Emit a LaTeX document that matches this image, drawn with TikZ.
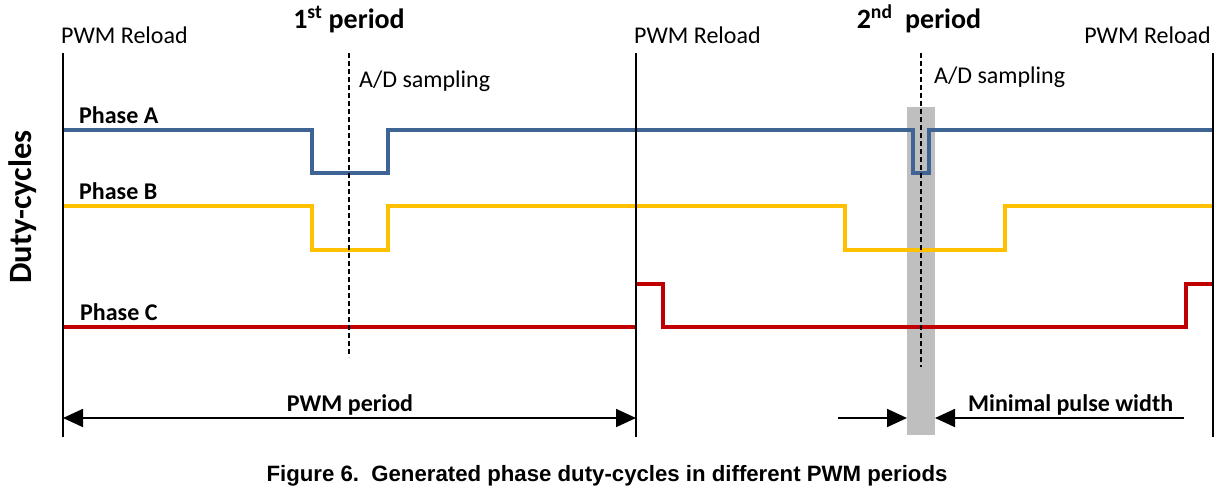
\documentclass[tikz,border=0pt]{standalone}
\usepackage{fontspec}
\setmainfont{Carlito}
\newfontfamily\capfont{Liberation Sans}
\usetikzlibrary{arrows.meta}
\definecolor{phA}{RGB}{62,100,148}
\definecolor{phB}{RGB}{255,192,0}
\definecolor{phC}{RGB}{192,0,0}
\definecolor{band}{RGB}{191,191,191}
\tikzset{
  reload/.style={line width=2.5pt, black},
  sig/.style={line width=4pt, line join=miter},
  samp/.style={line width=1.1pt, dash pattern=on 5pt off 3pt},
  dim/.style={line width=1.8pt, -{Triangle[length=20pt,width=18pt]}},
  lbl/.style={font=\fontsize{24}{28}\selectfont, inner sep=0pt},
  blbl/.style={font=\fontsize{24}{28}\selectfont\bfseries, inner sep=0pt},
}
\begin{document}
\begin{tikzpicture}[x=1pt,y=-1pt]
\useasboundingbox (0,0) rectangle (1221,491);
% gray band
\fill[band] (907,107) rectangle (935,435);
% phase A
\draw[sig, phA] (63,130) -- (312,130) -- (312,173) -- (388,173) -- (388,130) -- (913,130) -- (913,173) -- (929,173) -- (929,130) -- (1213,130);
% phase B
\draw[sig, phB] (63,206) -- (312,206) -- (312,250) -- (388,250) -- (388,206) -- (845,206) -- (845,250) -- (1005,250) -- (1005,206) -- (1213,206);
% phase C
\draw[sig, phC] (63,327) -- (636,327);
\draw[sig, phC] (636,284) -- (663,284) -- (663,327) -- (1186,327) -- (1186,284) -- (1213,284);
% sampling lines
\draw[samp] (349,53) -- (349,357);
\draw[samp] (921,53) -- (921,367);
% reload lines
\coordinate (r1t) at (63,53); \coordinate (r1b) at (63,437);
\coordinate (r2t) at (636,53); \coordinate (r2b) at (636,437);
\coordinate (r3t) at (1213,53); \coordinate (r3b) at (1213,437);
\draw[reload] (r1t) -- (r1b);
\draw[reload] (r2t) -- (r2b);
\draw[reload] (r3t) -- (r3b);
% dimension arrows
\coordinate (p1) at (63,418); \coordinate (p2) at (636,418);
\draw[dim] (349,418) -- (p2);
\draw[dim] (349,418) -- (p1);
\coordinate (m1) at (838,418); \coordinate (m2) at (907,418);
\coordinate (m3) at (1184,418); \coordinate (m4) at (935,418);
\draw[dim] (m1) -- (m2);
\draw[dim] (m3) -- (m4);
% texts
\node[lbl, anchor=base west] (t1) at (61,43) {PWM Reload};
\node[lbl, anchor=base west] (t2) at (634,43) {PWM Reload};
\node[lbl, anchor=base east] (t3) at (1211,43) {PWM Reload};
\node[font=\fontsize{28}{32}\selectfont\bfseries, inner sep=0pt, anchor=base] (per1) at (349,28) {1\textsuperscript{st} period};
\node[font=\fontsize{28}{32}\selectfont\bfseries, inner sep=0pt, anchor=base] (per2) at (919,28) {2\textsuperscript{nd}\ \ period};
\node[lbl, anchor=base west] (ad1) at (359,87) {A/D sampling};
\node[lbl, anchor=base west] (ad2) at (934,83) {A/D sampling};
\node[blbl, anchor=base west] (la) at (79,123) {Phase A};
\node[blbl, anchor=base west] (lb) at (79,199) {Phase B};
\node[blbl, anchor=base west] (lc) at (80,320) {Phase C};
\node[blbl, anchor=base] (pp) at (350,411) {PWM period};
\node[blbl, anchor=base west] (mp) at (968,411) {Minimal pulse width};
\node[font=\fontsize{32.5}{36}\selectfont\bfseries, inner sep=0pt, rotate=90] (dc) at (23,207) {Duty-cycles};
\node[font=\capfont\bfseries\fontsize{22.2}{24}\selectfont, inner sep=0pt, anchor=base] (cap) at (607,481) {Figure 6.\ \ Generated phase duty-cycles in different PWM periods};
\end{tikzpicture}
\end{document}
